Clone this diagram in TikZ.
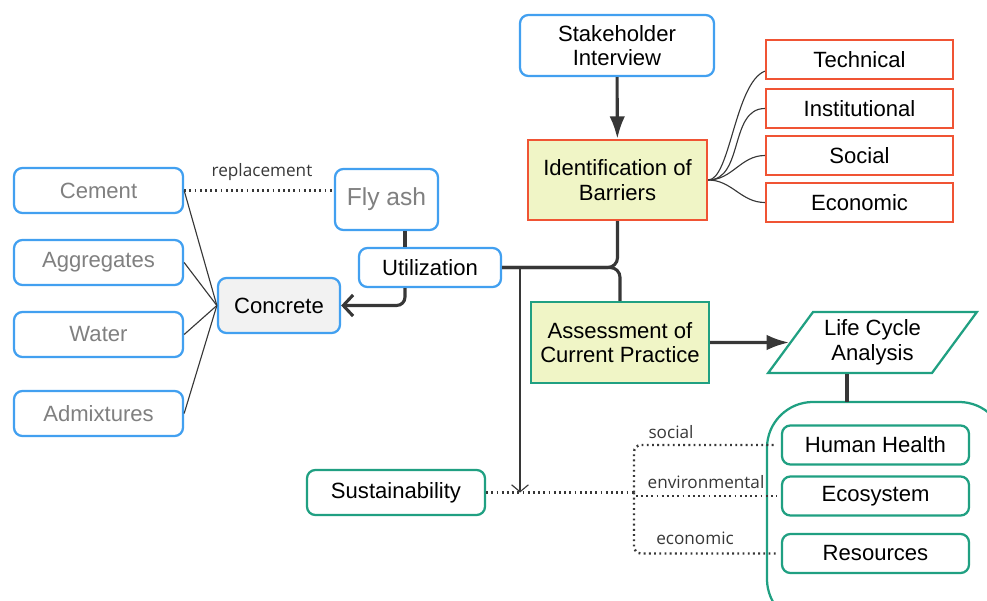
\documentclass[tikz,border=0pt]{standalone}
\usepackage{fontspec}
\setmainfont{Liberation Sans}
\newfontfamily\tagsans{Open Sans}
\usetikzlibrary{shapes.geometric,arrows.meta}

\definecolor{mapblue}{RGB}{66,160,240}
\definecolor{maporange}{RGB}{240,84,52}
\definecolor{mapgreen}{RGB}{32,160,130}
\definecolor{mapyellow}{RGB}{240,245,198}
\definecolor{mapgrey}{RGB}{242,242,242}
\definecolor{mapline}{RGB}{55,55,55}
\definecolor{maptext}{RGB}{128,128,128}

\newcommand\boxfont{\fontsize{15.7}{17.5}\selectfont}
\newcommand\tagfont{\tagsans\fontsize{12.2}{13}\selectfont}

\tikzset{>={Latex[length=16pt,width=11pt]},
  mapbox/.style={align=center,inner sep=0pt,line width=1.6pt,fill=white,
    font=\boxfont,text=black},
  bluebox/.style={mapbox,draw=mapblue,rounded corners=6pt},
  redbox/.style={mapbox,draw=maporange},
  greenbox/.style={mapbox,draw=mapgreen,rounded corners=6pt},
  heavy/.style={draw=mapline,line width=2.2pt},
  fine/.style={draw=mapline,line width=0.8pt},
  dots/.style={draw=mapline,line width=1.7pt,
    dash pattern=on 1.3pt off 2.4pt},
  tag/.style={font=\tagfont,text=mapline,inner sep=0pt}
}

\begin{document}
\begin{tikzpicture}[x=0.025cm,y=-0.025cm]
  \useasboundingbox (0,0) rectangle (987,600);

  %% barriers branch
  \node[bluebox,minimum width=4.85cm,minimum height=1.525cm] (stake) at (617,45.5) {Stakeholder\\Interview};
  \node[redbox,fill=mapyellow,minimum width=4.475cm,minimum height=2cm] (idb) at (617.5,180) {Identification of\\Barriers};
  \node[redbox,minimum width=4.675cm,minimum height=0.975cm] (tech) at (859.5,59.5) {Technical};
  \node[redbox,minimum width=4.675cm,minimum height=0.975cm] (inst) at (859.5,108.5) {Institutional};
  \node[redbox,minimum width=4.675cm,minimum height=0.975cm] (soc) at (859.5,155.5) {Social};
  \node[redbox,minimum width=4.675cm,minimum height=0.975cm] (econ) at (859.5,202.5) {Economic};

  \draw[heavy,->] (stake) -- (idb);
  \draw[fine] (idb.east) .. controls +(22,0) and +(-30,12) .. ([yshift=0.225cm]tech.south west);
  \foreach \b in {inst,soc,econ}
    \draw[fine] (idb.east) to[out=0,in=180] (\b.west);

  %% concrete ingredients
  \node[bluebox,text=maptext,minimum width=4.225cm,minimum height=1.125cm] (cement) at (98.5,190.5) {Cement};
  \node[bluebox,text=maptext,minimum width=4.225cm,minimum height=1.125cm] (aggr) at (98.5,262.5) {Aggregates};
  \node[bluebox,text=maptext,minimum width=4.225cm,minimum height=1.125cm] (water) at (98.5,334.5) {Water};
  \node[bluebox,text=maptext,minimum width=4.225cm,minimum height=1.125cm] (admix) at (98.5,413.5) {Admixtures};
  \node[bluebox,fill=mapgrey,minimum width=3.05cm,minimum height=1.375cm] (concrete) at (279,305.5) {Concrete};
  \node[bluebox,text=maptext,font=\fontsize{17.5}{20}\selectfont,minimum width=2.575cm,minimum height=1.525cm] (flyash) at (386.5,199.5) {Fly ash};
  \node[bluebox,minimum width=3.55cm,minimum height=0.975cm] (util) at (430,267.5) {Utilization};

  \foreach \i in {cement,aggr,water,admix}
    \draw[fine] (\i.east) -- (concrete.west);
  \draw[dots] (cement.east) -- (cement.east -| flyash.west);
  \node[tag] (repl) at (262,172) {replacement};

  \coordinate (fuse) at (405,0);
  \draw[heavy] (flyash.south -| fuse) -- (util.north -| fuse);
  \draw[heavy,rounded corners=6pt,-{Straight Barb[length=7pt,width=15pt]}] (util.south -| fuse) |- (concrete.east);

  %% assessment branch
  \node[greenbox,rounded corners=0pt,fill=mapyellow,minimum width=4.45cm,minimum height=2.025cm] (assess) at (620,342.5) {Assessment of\\Current Practice};
  \node[mapbox,draw=mapgreen,trapezium,trapezium stretches=true,trapezium left angle=51,trapezium right angle=129,
    minimum width=5.225cm,minimum height=1.525cm] (lca) at (872.5,342.5) {Life Cycle\\Analysis};

  \draw[heavy,rounded corners=7pt] (idb.south) |- (util.east);
  \draw[heavy,rounded corners=7pt] (util.east) -| (assess.north);
  \draw[heavy,->] (assess.east) -- (lca.west);

  %% impact categories
  \node[greenbox,rounded corners=1.15cm,minimum width=5.95cm,minimum height=5.575cm] (impacts) at (886,513.5) {};
  \node[greenbox,minimum width=4.675cm,minimum height=0.975cm] (hh) at (875.5,445) {Human Health};
  \node[greenbox,minimum width=4.675cm,minimum height=0.975cm] (ecosys) at (875.5,496) {Ecosystem};
  \node[greenbox,minimum width=4.675cm,minimum height=0.975cm] (res) at (875.5,553.5) {Resources};

  \coordinate (gtop) at (847,402);
  \draw[heavy] (lca.south -| gtop) -- (gtop);

  \node[greenbox,minimum width=4.45cm,minimum height=1.125cm] (sust) at (396,492.5) {Sustainability};

  \coordinate (split) at (634,492.5);
  \draw[dots] (sust.east) -- (split);
  \draw[dots,rounded corners=5pt,shorten >=3pt] (split) |- (hh.west);
  \draw[dots,shorten >=3pt] (split) |- (ecosys.west);
  \draw[dots,rounded corners=5pt,shorten >=3pt] (split) |- (res.west);
  \node[tag] (tsoc) at (671,432) {social};
  \node[tag] (tenv) at (706,482) {environmental};
  \node[tag] (teco) at (695,538) {economic};

  \coordinate (tap) at (520,267.5);
  \draw[fine,-{Straight Barb[length=5pt,width=12pt]}] (tap) -- (tap |- sust.east);

\end{tikzpicture}
\end{document}
